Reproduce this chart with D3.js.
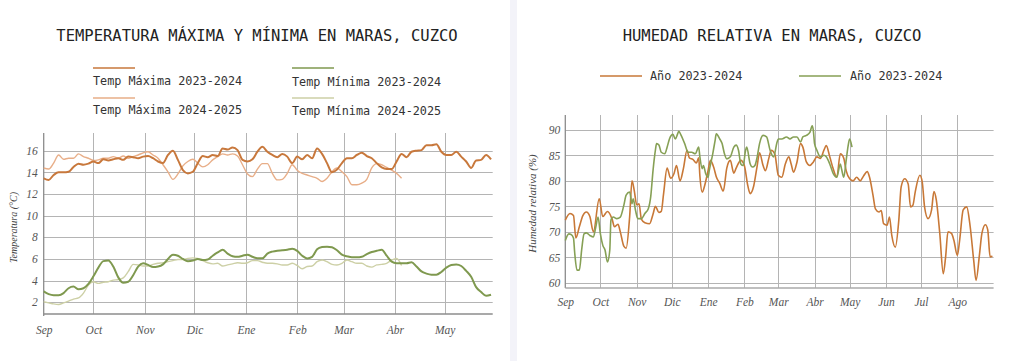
<!DOCTYPE html>
<html><head><meta charset="utf-8">
<script src="https://cdn.jsdelivr.net/npm/d3@7"></script>
<style>body{margin:0;background:#fff;} svg{display:block}</style>
</head><body><svg id="c" width="1024" height="361"></svg>
<script>
// ---------- DATA ----------
const monthLabels = ["Sep","Oct","Nov","Dic","Ene","Feb","Mar","Abr","May","Jun","Jul","Ago"];
const tempTicks = [2,4,6,8,10,12,14,16];
const humTicks = [60,65,70,75,80,85,90];

// temperature: one value every 3 days from season start (1 Sep)
const tempSeasonStart = "2024-09-01";
const tempSeasonEnd = "2025-05-30";
const tempStepDays = 3;
const tMax2324 = [
13.45,13.3,13.75,14.0,14.0,14.05,14.5,14.8,14.7,14.8,
15.0,14.85,15.2,15.1,15.2,15.3,15.15,15.45,15.4,15.3,
15.45,15.5,15.3,15.0,14.85,15.6,16.0,15.15,14.2,13.9,
14.05,14.85,15.5,15.4,15.6,15.5,16.2,16.1,16.3,16.05,
15.15,15.0,15.2,15.9,16.35,15.9,15.6,15.4,15.7,15.45,
14.85,15.45,15.2,15.6,15.3,16.2,15.7,14.85,14.0,14.25,
14.85,15.3,15.3,15.6,15.8,15.5,15.3,14.85,14.45,14.3,
14.3,15.0,15.7,15.4,15.9,16.0,16.05,16.5,16.5,16.6,
15.9,15.6,15.6,15.9,15.45,15.0,14.4,15.1,15.15,15.6,
15.2];
const tMax2425 = [
14.4,14.3,14.85,15.6,15.2,15.3,15.3,15.7,15.45,15.3,
15.1,15.15,15.3,15.3,15.45,15.3,15.5,15.3,15.45,15.6,
15.8,15.9,15.6,15.3,14.7,14.05,13.35,13.85,14.6,15.0,
15.2,14.85,14.5,14.7,15.15,15.45,15.7,15.6,15.7,15.5,
14.7,13.85,13.6,14.3,14.8,14.8,13.9,13.3,13.35,13.9,
14.7,14.2,13.9,13.75,13.6,13.45,13.15,13.45,14.05,14.4,
14.05,13.6,12.85,12.85,13.0,13.35,14.4,14.8,14.7,14.45,
14.2,13.9,13.45];
const tMin2324 = [
3.0,2.75,2.65,2.65,2.85,3.3,3.45,3.2,3.3,3.7,
4.4,5.2,5.8,5.85,5.3,4.3,3.8,3.9,4.5,5.3,
5.6,5.45,5.25,5.3,5.5,6.0,6.4,6.3,6.0,5.8,
5.85,6.0,5.9,5.95,6.3,6.6,6.85,6.5,6.25,6.2,
6.3,6.4,6.2,6.06,6.06,6.5,6.68,6.77,6.8,6.85,
6.95,6.75,6.3,6.05,6.2,6.9,7.1,7.14,7.08,6.8,
6.4,6.25,6.15,6.15,6.2,6.45,6.65,6.75,6.85,6.3,
5.75,5.6,5.6,5.6,5.7,5.3,4.85,4.65,4.55,4.55,
4.8,5.2,5.45,5.5,5.35,4.9,4.35,3.4,2.95,2.6,
2.7];
const tMin2425 = [
2.05,1.95,1.85,1.8,1.95,2.1,2.3,2.4,2.85,3.6,
3.9,3.75,3.85,3.9,4.05,4.1,4.25,4.83,5.5,5.45,
5.35,5.35,5.5,5.6,5.65,5.75,5.85,5.95,5.95,6.05,
6.1,6.05,5.85,5.65,5.55,5.6,5.35,5.45,5.55,5.65,
5.6,5.65,5.85,5.85,5.7,5.6,5.6,5.55,5.45,5.45,
5.6,5.4,5.1,5.3,5.35,5.75,5.9,5.75,5.5,5.45,
5.6,5.9,5.75,5.6,5.6,5.35,5.25,5.45,5.5,5.6,
5.9,6.05,5.4];

// humidity: [days since 1 Sep, %]
const humSeasonStart = "2023-09-01";
const humSeasonEnd = "2024-09-01";
const humOrange = [[0,72.3],[4,73.6],[7,73.2],[9,68.8],[12,71],[15,73.2],[18,73.9],[21,73],[24,70],[29,76.5],[32,73],[36,74],[40,72.5],[42,71],[45,71.5],[47,70],[50,67.2],[52,66.8],[55,73],[57,80],[59,78],[61,75.3],[63,75.5],[65,72.5],[68,71.8],[72,71.6],[75,73.5],[77,75],[80,73.8],[82,74],[84,77.5],[87,82.5],[90,80.5],[93,81.5],[95,83],[98,80],[101,82.5],[104,86],[106,84.5],[109,84.2],[112,83.5],[114,84.5],[115,81],[117,77.8],[119,79],[122,82],[124,84],[127,82.5],[129,80.8],[132,79.5],[135,78],[138,82.5],[141,84],[144,81.5],[146,82.5],[150,84],[153,83],[156,79],[158,77.5],[161,79],[164,83],[166,85.5],[169,83],[171,82],[174,84.5],[176,86],[179,85.3],[182,81.1],[185,80.7],[188,83.3],[191,84.7],[193,83.3],[195,81.7],[198,83.7],[201,87.3],[203,86.6],[206,83.7],[209,83],[212,83.7],[215,84.7],[218,84.4],[221,86],[223,86.9],[226,84.7],[229,82.3],[232,80.7],[235,85.3],[238,84.4],[240,82],[243,80.4],[246,80],[249,80.7],[252,80],[255,81],[258,81.8],[260,80.7],[263,77.1],[265,74.5],[268,73.9],[270,74.2],[272,71.6],[275,71.3],[277,72.9],[279,69.3],[282,67],[285,72.3],[287,78.8],[290,80.4],[293,79.4],[295,74.9],[297,75.2],[299,77.8],[303,81.1],[305,79.8],[307,74.9],[310,72.6],[313,74.3],[315,77.9],[317,76.3],[320,69.7],[323,61.8],[325,65.1],[327,70],[330,69.7],[332,68.4],[335,65.4],[337,68.4],[340,74.3],[343,74.9],[346,71],[349,64.4],[351,60.5],[354,65.7],[356,69.7],[359,71.4],[361,70.4],[363,65.1],[365,65.2]];
const humGreen = [[0,68.3],[3,69.6],[5,69.5],[7,68.8],[8,66],[10,62.5],[12,62.5],[14,66.5],[16,69.6],[18,69.8],[21,69.3],[24,69],[26,70.9],[28,72.9],[30,69.6],[32,67.4],[34,66.4],[36,64.1],[38,66.4],[39,72.3],[41,72.9],[44,72.6],[47,72.9],[50,75.2],[52,77.2],[55,77.8],[57,75.5],[58,76.5],[60,74.2],[62,72.6],[65,72.6],[68,73.6],[71,74.6],[73,76.9],[75,82.1],[77,86],[78,87.3],[80,87],[82,85.6],[85,85.3],[87,86.6],[89,88.2],[92,89.1],[94,88.2],[96,89.2],[97,89.7],[99,88.9],[102,87.3],[105,85.6],[108,85.6],[111,85.3],[114,86.6],[115,84.7],[117,82.4],[118,83],[120,81.4],[122,80.7],[123,82],[126,85.3],[128,87.9],[129,89.2],[132,88.2],[134,87.3],[136,85.3],[138,84.3],[141,84.7],[144,86.6],[146,87],[148,86],[150,83.3],[152,83],[154,85.9],[155,86.6],[158,83.3],[160,82.7],[162,83],[164,84.7],[166,87.3],[169,88.9],[172,88.6],[175,86],[178,84.7],[181,87.6],[182,88.2],[185,88.2],[189,88.6],[192,88.2],[195,88.6],[198,88.6],[201,87.6],[203,88.6],[206,88.9],[209,89.5],[211,90.8],[212,89.8],[213,87.3],[215,86],[218,84.7],[221,85],[223,84.7],[226,83.3],[229,81.4],[232,80.7],[235,83.3],[236,82.4],[238,80.7],[240,84],[242,87.3],[243,88.2],[245,86.6]];

const tempLegend = ["Temp Máxima 2023-2024","Temp Mínima 2023-2024","Temp Máxima 2024-2025","Temp Mínima 2024-2025"];
const humLegend = ["Año 2023-2024","Año 2023-2024"];

// ---------- STYLE ----------
const C = {maxA:"#c8783c", maxB:"#e8ae88", minA:"#7f994f", minB:"#cdd0a6",
           humO:"#c87837", humG:"#86a055", grid:"#b4b4b4", axis:"#8c8c8c", tick:"#555"};
const mono = "'DejaVu Sans Mono', 'Liberation Mono', monospace";
const serif = "'Liberation Serif', 'DejaVu Serif', serif";

const svg = d3.select("#c");
svg.append("rect").attr("width",1024).attr("height",361).attr("fill","#fff");
svg.append("rect").attr("x",510).attr("y",0).attr("width",7).attr("height",361).attr("fill","#f3f3f9");

const parse = d3.timeParse("%Y-%m-%d");
const monthName = d => monthLabels[(d.getMonth() + 4) % 12];

// ---------- LEFT: temperature ----------
const L = {x0:43.7, x1:492.7, y0:314, y1:133};
const tStart = parse(tempSeasonStart), tEnd = parse(tempSeasonEnd);
const xT = d3.scaleTime().domain([tStart, tEnd]).range([L.x0, L.x1]);
const yT = d3.scaleLinear().domain([0.92, 17.63]).range([L.y0, L.y1]);

const gL = svg.append("g");
gL.selectAll(".hg").data(tempTicks).join("line")
  .attr("x1",L.x0).attr("x2",L.x1).attr("y1",d=>Math.round(yT(d))+0.5).attr("y2",d=>Math.round(yT(d))+0.5)
  .attr("stroke",C.grid).attr("stroke-width",1);
const tMonths = d3.timeMonth.range(tStart, tEnd);
gL.selectAll(".vg").data(tMonths.slice(1)).join("line")
  .attr("x1",d=>Math.round(xT(d))+0.5).attr("x2",d=>Math.round(xT(d))+0.5).attr("y1",L.y1).attr("y2",L.y0)
  .attr("stroke",C.grid).attr("stroke-width",1);
gL.append("line").attr("x1",L.x0).attr("x2",L.x0).attr("y1",L.y1).attr("y2",L.y0+2).attr("stroke",C.axis).attr("stroke-width",1.3);
gL.append("line").attr("x1",L.x0).attr("x2",L.x1).attr("y1",L.y0).attr("y2",L.y0).attr("stroke",C.axis).attr("stroke-width",1.6);
gL.append("g").attr("transform",`translate(${L.x0},0)`).call(d3.axisLeft(yT).tickValues(tempTicks).tickSize(0).tickPadding(6))
  .call(g=>g.select(".domain").remove())
  .selectAll("text").attr("font-family",serif).attr("font-style","italic").attr("font-size",11.5).attr("fill",C.tick);
gL.append("g").attr("transform",`translate(0,${L.y0})`).call(d3.axisBottom(xT).tickValues(tMonths).tickFormat(monthName).tickSize(0).tickPadding(12))
  .call(g=>g.select(".domain").remove())
  .selectAll("text").attr("font-family",serif).attr("font-style","italic").attr("font-size",11.5).attr("fill",C.tick);
gL.append("text").attr("transform",`translate(17,${(L.y0+L.y1)/2+4}) rotate(-90)`).attr("text-anchor","middle")
  .attr("font-family",serif).attr("font-style","italic").attr("font-size",10).attr("fill","#444").text("Temperatura (°C)");

const lineT = d3.line().x((d,i)=>xT(d3.timeDay.offset(tStart, i*tempStepDays))).y(d=>yT(d)).curve(d3.curveMonotoneX);
[[tMin2425,C.minB,1.4],[tMax2425,C.maxB,1.4],[tMin2324,C.minA,2],[tMax2324,C.maxA,2]].forEach(([s,c,w])=>{
  gL.append("path").attr("d",lineT(s)).attr("fill","none").attr("stroke",c).attr("stroke-width",w).attr("stroke-linejoin","round");
});

svg.append("text").attr("x",257).attr("y",41).attr("text-anchor","middle").attr("font-family",mono).attr("font-size",15.5)
  .attr("fill","#222").text("TEMPERATURA MÁXIMA Y MÍNIMA EN MARAS, CUZCO");
const legPos = [[93,68,85],[292,68,86],[93,98,114],[292,98,115]];
const legCol = [C.maxA,C.minA,C.maxB,C.minB];
tempLegend.forEach((t,i)=>{
  const [x,ly,ty]=legPos[i];
  svg.append("line").attr("x1",x).attr("x2",x+42).attr("y1",ly).attr("y2",ly).attr("stroke",legCol[i]).attr("stroke-width",2).attr("opacity",0.75);
  svg.append("text").attr("x",x).attr("y",ty).attr("font-family",mono).attr("font-size",11.8).attr("fill","#333").text(t);
});

// ---------- RIGHT: humidity ----------
const R = {x0:565.3, x1:993.6, y0:288, y1:115};
const hStart = parse(humSeasonStart), hEnd = parse(humSeasonEnd);
const xH = d3.scaleTime().domain([hStart, hEnd]).range([R.x0, R.x1]);
const yH = d3.scaleLinear().domain([59, 92.9]).range([R.y0, R.y1]);
const gR = svg.append("g");
gR.selectAll(".hg").data(humTicks).join("line")
  .attr("x1",R.x0).attr("x2",R.x1).attr("y1",d=>Math.round(yH(d))+0.5).attr("y2",d=>Math.round(yH(d))+0.5)
  .attr("stroke",C.grid).attr("stroke-width",1);
const hMonths = d3.timeMonth.range(hStart, hEnd);
gR.selectAll(".vg").data(hMonths.slice(1)).join("line")
  .attr("x1",d=>Math.round(xH(d))+0.5).attr("x2",d=>Math.round(xH(d))+0.5).attr("y1",R.y1).attr("y2",R.y0)
  .attr("stroke",C.grid).attr("stroke-width",1);
gR.append("line").attr("x1",R.x0).attr("x2",R.x0).attr("y1",R.y1).attr("y2",R.y0).attr("stroke",C.axis).attr("stroke-width",1.3);
gR.append("line").attr("x1",R.x0).attr("x2",R.x1).attr("y1",R.y0).attr("y2",R.y0).attr("stroke","#aaa").attr("stroke-width",1.3);
gR.append("g").attr("transform",`translate(${R.x0},0)`).call(d3.axisLeft(yH).tickValues(humTicks).tickSize(0).tickPadding(5))
  .call(g=>g.select(".domain").remove())
  .selectAll("text").attr("font-family",serif).attr("font-style","italic").attr("font-size",11.5).attr("fill",C.tick);
gR.append("g").attr("transform",`translate(0,${R.y0})`).call(d3.axisBottom(xH).tickValues(hMonths).tickFormat(monthName).tickSize(0).tickPadding(10))
  .call(g=>g.select(".domain").remove())
  .selectAll("text").attr("font-family",serif).attr("font-style","italic").attr("font-size",11.5).attr("fill",C.tick);
gR.append("text").attr("transform",`translate(536,${(R.y0+R.y1)/2+2}) rotate(-90)`).attr("text-anchor","middle")
  .attr("font-family",serif).attr("font-style","italic").attr("font-size",11).attr("fill","#444").text("Humedad relativa (%)");

const lineH = d3.line().x(d=>xH(d3.timeDay.offset(hStart, d[0]))).y(d=>yH(d[1])).curve(d3.curveMonotoneX);
[[humOrange,C.humO],[humGreen,C.humG]].forEach(([s,c])=>{
  gR.append("path").attr("d",lineH(s)).attr("fill","none").attr("stroke",c).attr("stroke-width",1.6).attr("stroke-linejoin","round");
});

svg.append("text").attr("x",772).attr("y",41).attr("text-anchor","middle").attr("font-family",mono).attr("font-size",15.5)
  .attr("fill","#222").text("HUMEDAD RELATIVA EN MARAS, CUZCO");
const hLegX = [[600,650],[799,850]];
const hLegCol = [C.humO,C.humG];
humLegend.forEach((t,i)=>{
  const [lx,tx]=hLegX[i];
  svg.append("line").attr("x1",lx).attr("x2",lx+42).attr("y1",76).attr("y2",76).attr("stroke",hLegCol[i]).attr("stroke-width",2).attr("opacity",0.75);
  svg.append("text").attr("x",tx).attr("y",80).attr("font-family",mono).attr("font-size",11.8).attr("fill","#333").text(t);
});
</script></body></html>
